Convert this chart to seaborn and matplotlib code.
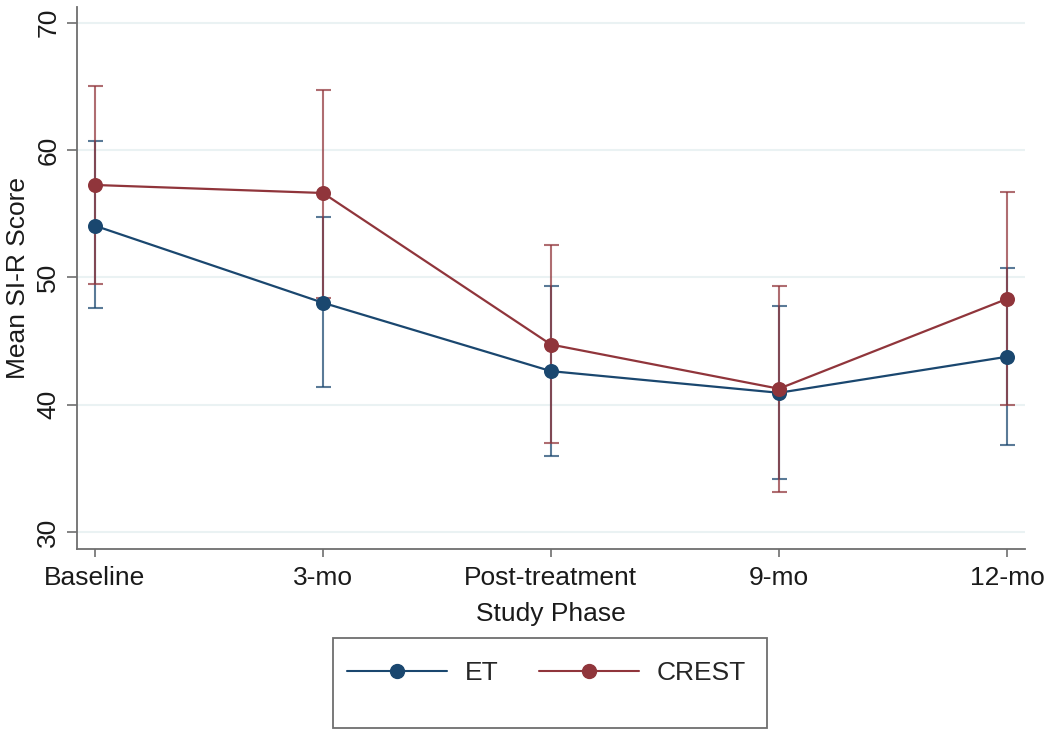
import numpy as np
import pandas as pd
import seaborn as sns
import matplotlib.pyplot as plt
from matplotlib.lines import Line2D
from matplotlib.patches import Rectangle

# Data
phases = ['Baseline', '3-mo', 'Post-treatment', '9-mo', '12-mo']
groups = ['ET', 'CREST']

et_mean = [54.05, 48.0, 42.63, 40.93, 43.76]
et_lower = [47.6, 41.4, 35.96, 34.13, 36.82]
et_upper = [60.72, 54.7, 49.3, 47.73, 50.74]

crest_mean = [57.25, 56.62, 44.72, 41.25, 48.3]
crest_lower = [49.5, 48.4, 37.0, 33.17, 39.94]
crest_upper = [65.03, 64.72, 52.5, 49.3, 56.7]

y_ticks = [30, 40, 50, 60, 70]

colors = {'ET': '#1a476f', 'CREST': '#90353b'}
axis_grey = '#6e6e6e'

# long table for seaborn
df = pd.concat([
    pd.DataFrame({'phase': phases, 'group': 'ET', 'mean': et_mean,
                  'lower': et_lower, 'upper': et_upper}),
    pd.DataFrame({'phase': phases, 'group': 'CREST', 'mean': crest_mean,
                  'lower': crest_lower, 'upper': crest_upper}),
], ignore_index=True)

sns.set_theme(style='white')
plt.rcParams['font.family'] = ['Liberation Sans', 'DejaVu Sans']

fig = plt.figure(figsize=(10.5, 7.34), dpi=100)
ax = fig.add_axes([0.0733, 0.252, 0.9028, 0.738])

# --- confidence intervals ---
x_pos = np.arange(len(phases))
for g in groups:
    sub = df[df['group'] == g]
    ax.errorbar(x_pos, sub['mean'],
                yerr=[sub['mean'] - sub['lower'], sub['upper'] - sub['mean']],
                fmt='none', ecolor=colors[g], alpha=0.72, elinewidth=1.5,
                capsize=5.4, capthick=1.5, zorder=2)

# --- means ---
sns.pointplot(data=df, x='phase', y='mean', hue='group', order=phases,
              hue_order=groups, palette=colors, errorbar=None, markers='o',
              markersize=9.6, linewidth=1.6, legend=False, ax=ax)

ax.set_xlim(-0.079, 4.079)
ax.set_ylim(28.66, 71.2)
ax.set_yticks(y_ticks)
ax.yaxis.grid(True, color='#eaf2f3', linewidth=1.5)
ax.xaxis.grid(False)
ax.set_axisbelow(True)

for side in ['top', 'right']:
    ax.spines[side].set_visible(False)
for side in ['left', 'bottom']:
    ax.spines[side].set_color(axis_grey)
    ax.spines[side].set_linewidth(1.3)

ax.tick_params(axis='both', bottom=True, left=True, direction='out',
               color=axis_grey, width=1.2, labelsize=19, labelcolor='#1a1a1a')
ax.tick_params(axis='y', length=7, pad=5, labelrotation=90)
ax.tick_params(axis='x', length=6, pad=6)
for lbl in ax.get_yticklabels():
    lbl.set_va('center')

ax.set_ylabel('Mean SI-R Score', fontsize=19, color='#1a1a1a')
ax.yaxis.set_label_coords(-0.05, 0.5)
ax.set_xlabel('Study Phase', fontsize=19, color='#1a1a1a')
ax.xaxis.set_label_coords(0.5, -0.097)

# --- legend ---
handles = [Line2D([], [], color=colors[g], marker='o', markersize=10, linewidth=1.5)
           for g in groups]
fig.legend(handles, groups, loc='center left', bbox_to_anchor=(0.3305, 0.0831),
           ncol=2, frameon=False, fontsize=19, handlelength=3.8,
           handletextpad=0.65, columnspacing=1.55, borderpad=0, borderaxespad=0)
fig.add_artist(Rectangle((333 / 1050, 1 - 728 / 734), (767 - 333) / 1050, 90 / 734,
                         transform=fig.transFigure, fill=False,
                         edgecolor=axis_grey, linewidth=1.3))

fig.savefig('out.png', dpi=100)
